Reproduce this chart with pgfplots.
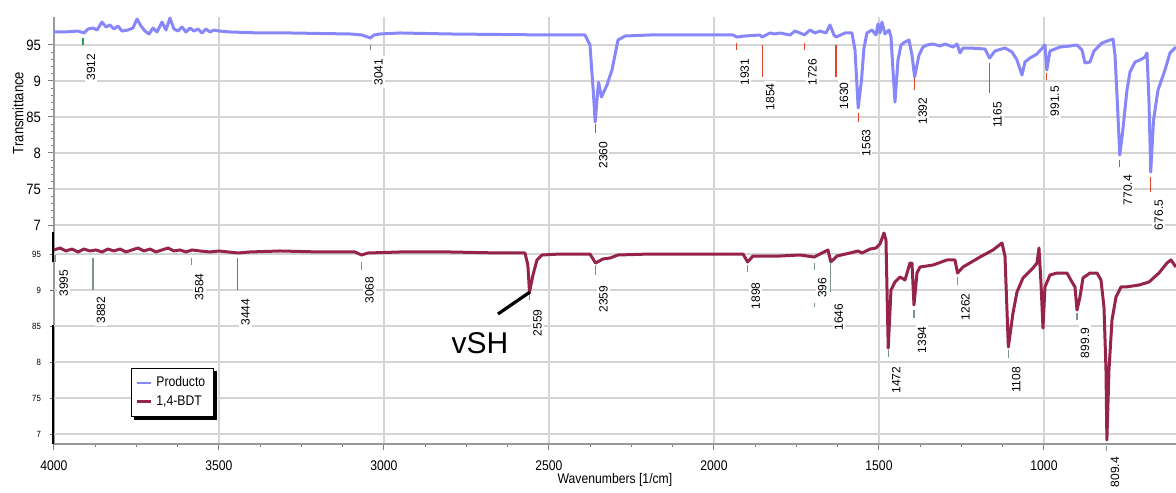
\documentclass[border=0pt]{standalone}
\usepackage{pgfplots}
\pgfplotsset{compat=1.18}
\usepackage{fontspec}
\setmainfont{Liberation Sans}
\newfontfamily\tahoma[FakeStretch=0.87]{Liberation Sans}
\usetikzlibrary{calc}
\definecolor{prod}{RGB}{135,135,250}
\definecolor{bdt}{RGB}{150,35,72}
\definecolor{mkred}{RGB}{225,70,40}
\definecolor{mkgreen}{RGB}{40,160,90}
\definecolor{mkgray}{RGB}{120,150,140}
\newcommand\pkfont{\fontsize{6}{7}\selectfont}
% #1 wavenumber, #2 marker top, #3 marker bottom, #4 label centre, #5 colour, #6 text
\newcommand\peak[6]{%
  \draw[#5, line width=0.6pt] (axis cs:#1,#2) -- (axis cs:#1,#3);
  \node[rotate=90, fill=white, inner xsep=1.5pt, inner ysep=1pt, font=\pkfont] at ($(axis cs:#1,#4)+(4pt,0pt)$) {#6};}

\pgfplotstableread{
W T
4000 96.81
3966.7 96.81
3927.3 96.94
3909.1 96.67
3897.0 97.22
3881.8 97.36
3869.7 97.08
3854.5 98.19
3842.4 97.50
3830.3 97.78
3818.2 97.22
3806.1 97.64
3793.9 96.94
3775.8 97.08
3760.6 97.36
3748.5 98.61
3736.4 97.64
3724.2 96.94
3712.1 96.53
3700.0 97.36
3687.9 96.81
3672.7 98.19
3660.6 97.08
3648.5 98.75
3636.4 97.22
3624.2 96.94
3612.1 97.50
3600.0 96.81
3587.9 97.36
3575.8 96.94
3563.6 97.22
3551.5 96.67
3539.4 97.22
3527.3 96.81
3515.2 97.08
3500.0 96.94
3466.7 96.81
3375.8 96.67
3284.8 96.67
3193.9 96.60
3103.0 96.53
3066.7 96.39
3041 95.97
3030 96.39
3012.1 96.53
2951.5 96.67
2800.0 96.53
2648.5 96.46
2497.0 96.39
2390.9 96.39
2375.8 95.00
2366 88.75
2360 84.31
2350 89.86
2341 87.78
2324.2 89.44
2309.1 91.53
2290.9 95.69
2269.7 96.25
2193.9 96.39
2042.4 96.39
1942.4 96.39
1931 96.10
1906.1 96.25
1860.6 96.39
1854 96.10
1830.3 96.67
1815.2 96.53
1800.0 96.67
1769.7 96.39
1754.5 96.94
1739.4 96.67
1726 96.40
1709.1 97.08
1693.9 96.67
1678.8 96.94
1660.6 96.67
1648.5 97.78
1636.4 96.39
1630 96.11
1603.0 96.67
1581.8 96.67
1572.7 94.31
1563 86.25
1553 90.14
1545.5 94.58
1536.4 96.67
1521.2 97.08
1509.1 96.39
1503.0 97.92
1497.0 96.67
1490.9 98.19
1481.8 96.53
1469.7 97.08
1463.6 96.11
1457.6 91.53
1451.5 87.08
1442.4 92.92
1433.3 95.00
1421.2 95.42
1409.1 95.69
1400.0 93.61
1392 90.56
1378.8 93.61
1366.7 94.72
1354.5 95.00
1336.4 95.14
1315.2 94.86
1300.0 95.14
1275.8 94.72
1263.6 95.14
1254.5 93.89
1245.5 94.58
1224.2 94.58
1178.8 94.44
1165 93.19
1148.5 94.17
1118.2 94.58
1097.0 94.03
1081.8 92.92
1066.7 90.83
1057.6 92.64
1042.4 93.19
1021.2 93.75
997.0 95.00
991.5 91.53
981.8 94.17
951.5 94.72
921.2 94.86
900.0 95.00
884.8 94.31
875.8 92.50
860.6 92.64
848.5 94.17
824.2 95.28
800.0 95.69
790.9 95.83
784.8 93.61
778 87.36
770.4 79.72
762 82.78
748.5 88.75
739.4 91.25
724.2 92.64
709.1 92.92
693.9 93.33
687.9 93.89
682 87.36
676.5 77.36
668 84.58
654.5 88.75
633.3 91.53
618.2 93.89
600.0 94.72
}\producto

\pgfplotstableread{
W T
4000 95.56
3981.8 95.83
3963.6 95.42
3945.5 95.69
3927.3 95.28
3909.1 95.69
3890.9 95.42
3872.7 95.56
3854.5 95.28
3836.4 95.69
3818.2 95.42
3800.0 95.69
3781.8 95.28
3763.6 95.56
3745.5 95.83
3727.3 95.42
3709.1 95.69
3690.9 95.28
3672.7 95.56
3654.5 95.83
3636.4 95.42
3618.2 95.56
3600.0 95.28
3581.8 95.56
3557.6 95.42
3527.3 95.28
3500.0 95.42
3442.4 95.14
3406.1 95.28
3315.2 95.42
3193.9 95.28
3087.9 95.28
3068 94.86
3048.5 95.14
2951.5 95.28
2800.0 95.28
2648.5 95.14
2572.7 95.14
2564 93.47
2559 89.72
2548.5 92.08
2536.4 94.17
2521.2 94.86
2466.7 95.00
2375.8 95.00
2359 93.75
2336.4 94.31
2315.2 94.44
2290.9 94.86
2193.9 95.00
2042.4 95.00
1912.1 95.00
1898 93.89
1881.8 94.72
1800.0 94.72
1739.4 94.86
1696 94.58
1678.8 95.00
1654.5 95.56
1646 93.89
1627.3 94.72
1587.9 95.14
1563.6 95.42
1551.5 95.14
1527.3 95.69
1509.1 95.83
1497.0 96.39
1484.8 97.92
1478.8 96.94
1472 81.94
1463.6 90.00
1451.5 91.11
1436.4 91.81
1421.2 91.39
1406.1 93.75
1400.0 93.75
1394 87.92
1384.8 92.36
1375.8 93.19
1336.4 93.47
1293.9 94.17
1269.7 94.17
1262 92.36
1245.5 93.19
1193.9 94.58
1154.5 95.56
1127.3 96.53
1118.2 94.72
1108 82.08
1093.9 86.81
1081.8 89.72
1063.6 91.67
1033.3 93.06
1021.2 93.75
1015.2 95.83
1009.1 90.97
1003 84.72
997.0 90.42
981.8 92.08
960.6 92.36
930.3 92.36
915.2 91.11
906.1 90.42
899.9 87.22
890.9 89.03
881.8 91.67
860.6 92.36
839.4 92.36
827.3 91.39
818.2 87.64
812.1 78.89
809.4 69.17
803.0 78.89
793.9 85.83
781.8 89.03
766.7 90.42
751.5 90.42
712.1 90.69
681.8 91.11
651.5 92.36
627.3 93.75
615.2 94.17
600.0 93.19
}\bdt

\begin{document}
\begin{tikzpicture}
\begin{axis}[
  scale only axis, width=561pt, height=213.5pt,
  x dir=reverse, xmin=600, xmax=4000, ymin=39.583, ymax=98.889,
  clip=false,
  axis x line=bottom, axis y line=left,
  axis line style={-, draw=black!40, line width=0.7pt},
  xtick={1000,1500,...,4000}, minor x tick num=3,
  ytick={70,75,...,95}, yticklabels={7,75,8,85,9,95}, minor y tick num=4,
  tick align=outside, major tick length=3pt, minor tick length=1.5pt,
  tick style={black!50, line width=0.5pt},
  xmajorgrids, ymajorgrids, grid style={black!17, line width=0.6pt},
  /pgf/number format/assume math mode=true,
  /pgf/number format/set thousands separator={},
  xticklabel style={font=\tahoma\fontsize{7}{8}\selectfont, yshift=-2pt},
  yticklabel style={font=\tahoma\fontsize{7.5}{8}\selectfont},
  xlabel={Wavenumbers [1/cm]},
  xlabel style={font=\tahoma\fontsize{7}{8}\selectfont, at={(axis description cs:0.5,0)}, anchor=center, yshift=-18pt},
]
\addplot[prod, line width=1.5pt, line join=round] table[x=W, y=T] {\producto};
\peak{3912}{95.97}{95.0}{91.94}{mkgreen}{3912}
\peak{3041}{95.0}{94.31}{91.25}{black!50}{3041}
\peak{2360}{84.03}{82.78}{79.72}{mkred}{2360}
\peak{1931}{95.28}{94.31}{91.25}{mkred}{1931}
\peak{1854}{95.0}{90.56}{87.78}{mkred}{1854}
\peak{1726}{95.28}{94.31}{91.25}{mkred}{1726}
\peak{1630}{95.0}{90.56}{87.92}{mkred}{1630}
\peak{1563}{85.56}{84.31}{81.39}{mkred}{1563}
\peak{1392}{90.42}{88.75}{85.83}{mkred}{1392}
\peak{1165}{92.5}{88.33}{85.28}{mkred}{1165}
\peak{991.5}{91.11}{90.14}{87.22}{mkred}{991.5}
\peak{770.4}{79.03}{78.06}{74.86}{mkred}{770.4}
\peak{676.5}{76.67}{74.58}{71.39}{mkred}{676.5}
\node[rotate=90, font=\tahoma\fontsize{7.5}{8}\selectfont] at (axis cs:4109,85.56) {Transmittance};
\coordinate (bbsw) at (axis cs:4163.6,32.917);
\coordinate (bbne) at (axis cs:600,101.25);
\end{axis}
\begin{axis}[
  scale only axis, width=561pt, height=213.5pt,
  x dir=reverse, xmin=600, xmax=4000, ymin=68.611, ymax=127.917,
  clip=false,
  axis x line=none, axis y line=left,
  y axis line style={draw=none},
  ytick={70,75,...,95}, yticklabels={7,75,8,85,9,95},
  tick align=outside, major tick length=2pt,
  ytick style={black!60, line width=0.4pt},
  ymajorgrids, grid style={black!17, line width=0.6pt},
  /pgf/number format/assume math mode=true,
  yticklabel style={font=\tahoma\fontsize{4.5}{5}\selectfont, xshift=-1pt},
  legend style={name=leg, at={(axis cs:3766.7,79.17)}, anchor=north west, draw=black, line width=0.5pt,
    fill=white, font=\tahoma\fontsize{7}{8}\selectfont, inner xsep=2pt, inner ysep=2pt, row sep=-1pt},
  legend cell align=left,
  legend image code/.code={\draw[#1] (0pt,0pt) -- (7pt,0pt);},
]
\addlegendimage{prod, line width=1pt}
\addlegendentry{Producto}
\addplot[bdt, line width=1.5pt, line join=round] table[x=W, y=T] {\bdt};
\addlegendentry{1,4-BDT}
\draw[black, line width=1.1pt] (axis cs:4003,98.06) -- (axis cs:4003,93.89);
\draw[black, line width=1.1pt] (axis cs:4003,85.14) -- (axis cs:4003,68.611);
\peak{3995}{94.86}{93.89}{90.97}{mkgray}{3995}
\peak{3882}{94.44}{90.0}{87.22}{mkgray}{3882}
\peak{3584}{94.44}{93.47}{90.42}{mkgray}{3584}
\peak{3444}{94.44}{90.0}{86.94}{mkgreen}{3444}
\peak{3068}{93.89}{92.78}{90.0}{mkgray}{3068}
\peak{2559}{89.58}{88.61}{85.42}{mkgray}{2559}
\peak{2359}{93.47}{92.08}{88.75}{mkgray}{2359}
\peak{1898}{93.47}{92.5}{89.17}{mkgray}{1898}
\peak{1696}{93.75}{92.78}{90.28}{mkgray}{396}
\draw[mkgray, line width=0.6pt] (axis cs:1696,88.2) -- (axis cs:1696,87.6);
\peak{1646}{93.89}{89.72}{86.25}{mkgray}{1646}
\peak{1472}{81.67}{80.69}{77.5}{mkgray}{1472}
\peak{1394}{87.22}{86.11}{83.06}{mkgray}{1394}
\peak{1262}{91.81}{90.69}{87.64}{mkgray}{1262}
\peak{1108}{81.67}{80.56}{77.5}{mkgray}{1108}
\peak{899.9}{86.81}{85.83}{82.64}{mkgray}{899.9}
\peak{809.4}{68.3}{67.6}{64.72}{mkgray}{809.4}
\draw[black, line width=1.6pt] (axis cs:2654.5,86.67) -- (axis cs:2557.6,89.72);
\node[font=\fontsize{15}{16}\selectfont] at (axis cs:2709,82.64) {vSH};
\end{axis}
\draw[black, line width=1.6pt] ($(leg.north east)+(0.8pt,-1.6pt)$) -- ($(leg.south east)+(0.8pt,-0.8pt)$) -- ($(leg.south west)+(1.6pt,-0.8pt)$);
\pgfresetboundingbox
\path[use as bounding box] (bbsw) rectangle (bbne);
\end{tikzpicture}
\end{document}
